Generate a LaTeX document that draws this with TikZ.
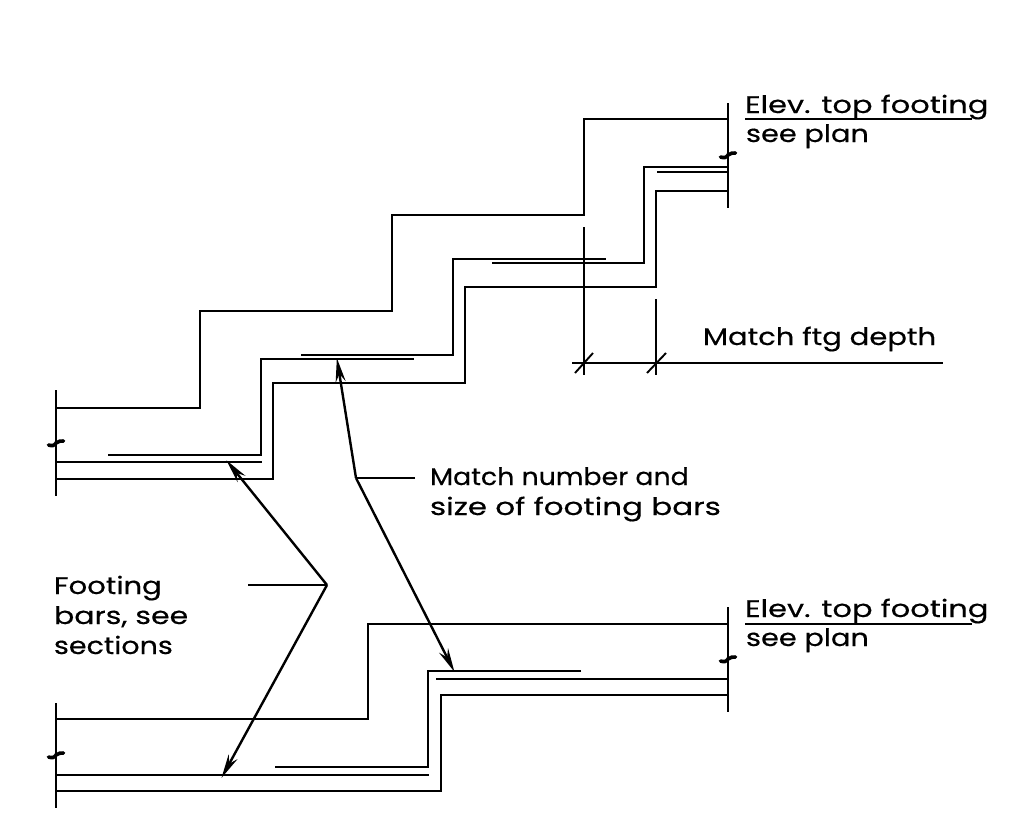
\documentclass[tikz,border=0pt]{standalone}
\usepackage{graphicx}
\usepackage{fontspec}
\setmainfont[FakeBold=0.35]{Poppins}
\usetikzlibrary{arrows.meta}
\tikzset{
  wall/.style={line width=2.8pt,line join=miter},
  thin dim/.style={line width=1.9pt},
  leader/.style={line width=2.4pt},
  arrowed/.style={line width=2.4pt,-{Stealth[length=24pt,width=10pt]},shorten >=-1pt},
  lbl/.style={inner sep=0pt,outer sep=0pt,anchor=base west,font=\fontsize{24}{24}\selectfont},
  brkline/.style={line width=3.6pt,line cap=round}
}
\newcommand{\brksym}[2]{\draw[brkline] (#1-7.5,#2+2) .. controls (#1-4,#2+3) and (#1-2,#2+3) .. (#1,#2) .. controls (#1+2,#2-2) and (#1+5,#2-2) .. (#1+7.5,#2-2);}
\newcommand{\sx}[2]{\scalebox{#1}[1]{#2}}
\begin{document}
\begin{tikzpicture}[x=1pt,y=-1pt]
\useasboundingbox (0,0) rectangle (1013,825);
\fill[white] (0,0) rectangle (1013,825);
% upper stepped footing
\draw[wall] (56,408) -- (200,408) -- (200,311) -- (392,311) -- (392,215) -- (584,215) -- (584,119) -- (728,119);
\draw[wall] (108,455) -- (261,455) -- (261,359) -- (414,359);
\draw[wall] (56,462) -- (262,462);
\draw[wall] (301,355) -- (453,355) -- (453,259) -- (606,259);
\draw[wall] (492,263) -- (644,263) -- (644,167) -- (728,167);
\draw[wall] (657,172) -- (728,172);
\draw[wall] (56,479) -- (273,479) -- (273,383) -- (465,383) -- (465,287) -- (656,287) -- (656,191) -- (728,191);
\draw[wall] (56,390) -- (56,496);
\draw[wall] (728,103) -- (728,208);
\brksym{56}{443}
\brksym{728}{155}
% lower stepped footing
\draw[wall] (56,719) -- (368,719) -- (368,624) -- (728,624);
\draw[wall] (581,671) -- (428,671) -- (428,767) -- (275,767);
\draw[wall] (436,679) -- (728,679);
\draw[wall] (56,775) -- (429,775);
\draw[wall] (56,791) -- (441,791) -- (441,695) -- (728,695);
\draw[wall] (56,703) -- (56,808);
\draw[wall] (728,607) -- (728,712);
\brksym{56}{755}
\brksym{728}{659}
% dimension
\draw[thin dim] (584,227) -- (584,375);
\draw[thin dim] (656,299) -- (656,375);
\draw[thin dim] (572,363) -- (943,363);
\draw[thin dim] (575,373) -- (593,353);
\draw[thin dim] (647,373) -- (666,353);
% labels
\node[lbl] (e1) at (745,113) {\sx{1.27}{Elev. top footing}};
\node[lbl] (s1) at (746,142) {\sx{1.2}{see plan}};
\draw[wall] (745,119) -- (972,119);
\node[lbl] (e2) at (745,617) {\sx{1.27}{Elev. top footing}};
\node[lbl] (s2) at (746,646) {\sx{1.2}{see plan}};
\draw[wall] (745,624) -- (972,624);
\node[lbl] (mf) at (703,345) {\sx{1.21}{Match ftg depth}};
\node[lbl] (mn) at (430,485) {\sx{1.117}{Match number and}};
\node[lbl] (ms) at (430,515) {\sx{1.29}{size of footing bars}};
\node[lbl] (f1) at (54,594) {\sx{1.21}{Footing}};
\node[lbl] (f2) at (54,624) {\sx{1.25}{bars, see}};
\node[lbl] (f3) at (54,654) {\sx{1.19}{sections}};
% leaders
\coordinate (ja) at (356,478);
\coordinate (jb) at (327,585);
\coordinate (la) at (415,478);
\coordinate (lb) at (248,585);
\coordinate (t1) at (337,359);
\coordinate (t2) at (454,671);
\coordinate (t3) at (227,461);
\coordinate (t4) at (222,777);
\draw[leader] (la) -- (ja);
\draw[leader] (lb) -- (jb);
\draw[arrowed] (ja) -- (t1);
\draw[arrowed] (ja) -- (t2);
\draw[arrowed] (jb) -- (t3);
\draw[arrowed] (jb) -- (t4);
\end{tikzpicture}
\end{document}
